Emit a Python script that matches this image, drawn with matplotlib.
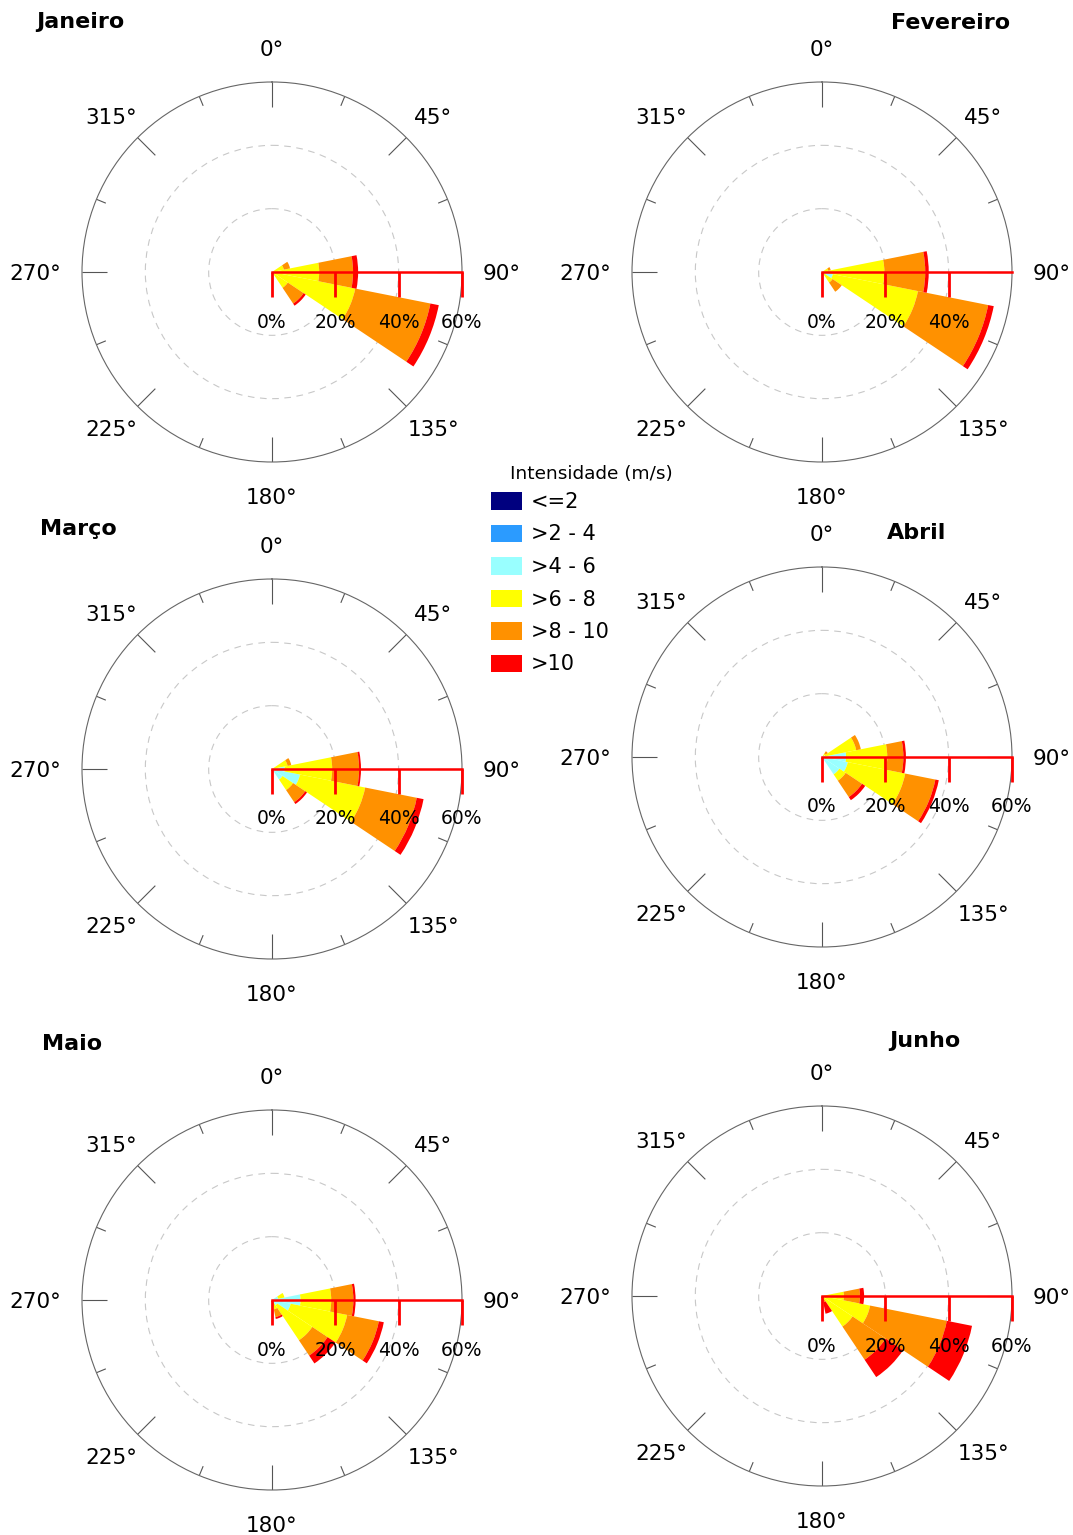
import matplotlib.pyplot as plt
import numpy as np
from matplotlib.patches import Patch

plt.rcParams['font.family'] = 'DejaVu Sans'

# direcoes com dados (graus, sentido horario a partir do norte)
direcoes = [45, 67.5, 90, 112.5, 135, 157.5]
classes = ['<=2', '>2 - 4', '>4 - 6', '>6 - 8', '>8 - 10', '>10']
cores = ['#00007f', '#2b9bff', '#99ffff', '#ffff00', '#ff9100', '#ff0000']
meses = ['Janeiro', 'Fevereiro', 'Março', 'Abril', 'Maio', 'Junho']

# frequencia (%) por classe de intensidade, uma linha por classe
janeiro = [[0, 0, 0, 0, 0, 0],
           [0, 0, 0, 0, 0, 0],
           [0, 0.3, 0.5, 1.0, 0.5, 0],
           [0, 3.5, 14.4, 25.8, 5.5, 0],
           [0, 2.0, 10.7, 24.2, 6.0, 0],
           [0, 0, 1.6, 2.7, 0.8, 0]]
fevereiro = [[0, 0, 0, 0, 0, 0],
             [0, 0, 0, 0, 0, 0],
             [0, 0.3, 1.0, 3.5, 0.5, 0],
             [0, 1.7, 18.7, 27.4, 3.5, 0],
             [0, 0.8, 12.9, 22.6, 3.5, 0],
             [0, 0, 1.1, 1.8, 0, 0]]
marco = [[0, 0, 0, 0, 0, 0],
         [0, 0, 0, 0, 0, 0],
         [0, 0.5, 4.0, 9.0, 4.0, 0],
         [0, 4.5, 15.0, 21.0, 4.0, 0],
         [0, 1.2, 8.5, 16.6, 4.6, 0],
         [0, 0, 0.6, 2.2, 0.7, 0]]
abril = [[0, 0, 0, 0, 0, 0],
         [0, 0, 0, 0, 0, 0],
         [0.5, 1.0, 7.6, 8.3, 6.6, 0],
         [0.8, 10.0, 13.0, 18.5, 2.4, 0],
         [0.9, 1.5, 5.1, 9.7, 6.2, 0],
         [0, 0, 0.8, 1.1, 1.2, 0]]
maio = [[0, 0, 0, 0, 0, 0],
        [0, 0, 0, 0, 0, 0],
        [0, 2.0, 9.0, 6.0, 2.0, 1.0],
        [0, 2.0, 9.7, 18.2, 13.3, 2.0],
        [0, 0, 7.0, 10.2, 5.8, 2.5],
        [0, 0, 0.7, 1.6, 3.0, 0.6]]
junho = [[0, 0, 0, 0, 0, 0],
         [0, 0, 0, 0, 0, 0],
         [0, 0, 0.5, 1.0, 0.5, 0],
         [0, 0, 6.4, 14.5, 11.1, 1.0],
         [0, 0, 5.1, 24.7, 12.6, 1.0],
         [0, 0, 1.3, 8.1, 6.6, 3.7]]
dados = [janeiro, fevereiro, marco, abril, maio, junho]

# marcas do eixo radial vermelho (fevereiro nao tem 60%)
marcas_r = [[0, 20, 40, 60], [0, 20, 40], [0, 20, 40, 60],
            [0, 20, 40, 60], [0, 20, 40, 60], [0, 20, 40, 60]]
angulos = [0, 45, 90, 135, 180, 225, 270, 315]

W, H = 1073, 1535
R = 190
centros = [(272, 272), (822, 272), (272, 769), (822, 757), (272, 1300), (822, 1296)]
pos_titulos = [(80, 22), (951, 23), (78, 529), (917, 533), (72, 1044), (925, 1041)]

fig = plt.figure(figsize=(W / 100, H / 100), dpi=100)

for i in range(6):
    cx, cy = centros[i]
    ax = fig.add_axes([(cx - R) / W, 1 - (cy + R) / H, 2 * R / W, 2 * R / H],
                      projection='polar')
    ax.set_theta_zero_location('N')
    ax.set_theta_direction(-1)
    ax.set_axisbelow(True)

    th = np.deg2rad(direcoes)
    base = np.zeros(len(direcoes))
    for k in range(len(classes)):
        v = np.array(dados[i][k], dtype=float)
        ax.bar(th, v, width=np.deg2rad(22.5), bottom=base, color=cores[k],
               linewidth=0, align='center')
        base += v
    ax.set_ylim(0, 60)

    # grade
    ax.set_yticks([20, 40])
    ax.set_yticklabels([])
    ax.yaxis.grid(True, color='#c8c8c8', linestyle=(0, (6, 5)), linewidth=0.8)
    ax.xaxis.grid(False)
    ax.set_xticks([])
    ax.spines['polar'].set_color('#666666')
    ax.spines['polar'].set_linewidth(0.8)

    # marcas no circulo externo
    ax.vlines(np.deg2rad(angulos), 52.1, 60, color='#555555', lw=0.8)
    ax.vlines(np.deg2rad(np.array(angulos) + 22.5), 56.8, 60, color='#555555', lw=0.8)
    for d in angulos:
        ha = 'center'
        rr = 69.8
        dx = 0
        if d in (0, 180):
            rr = 70.7
        elif d == 90:
            ha, rr = 'left', 66.6
        elif d == 270:
            ha, rr = 'right', 66.6
        elif d in (45, 135):
            dx = 3.5
        else:
            dx = -3.5
        ax.annotate(f'{d}°', xy=(np.deg2rad(d), rr), xytext=(dx, 0),
                    textcoords='offset points', ha=ha, va='center_baseline',
                    fontsize=15.5, annotation_clip=False)

    # eixo radial vermelho
    ax.plot([np.pi / 2, np.pi / 2], [0, 60], color='red', lw=1.8, zorder=5, clip_on=False)
    rt = marcas_r[i]
    ax.plot([np.pi / 2] * len(rt), rt, ls='none', marker=3, ms=18, mew=2,
            color='red', zorder=5, clip_on=False)
    for r in rt:
        ax.annotate(f'{r}%', xy=(np.pi / 2, r), xytext=(0, -36),
                    textcoords='offset points', ha='center', va='center',
                    fontsize=13.5, zorder=6)

    tx, ty = pos_titulos[i]
    fig.text(tx / W, 1 - ty / H, meses[i], ha='center', va='center',
             fontsize=16, fontweight='bold')

# legenda
fig.text(591 / W, 1 - 474 / H, 'Intensidade (m/s)', ha='center', va='center', fontsize=13.3)
alcas = [Patch(facecolor=c, edgecolor='none') for c in cores]
fig.legend(alcas, classes, loc='upper left', bbox_to_anchor=(491 / W, 1 - 492 / H),
           frameon=False, fontsize=15, handlelength=1.5, handleheight=0.92,
           labelspacing=0.6, handletextpad=0.4, borderpad=0, borderaxespad=0)

fig.savefig('out.png', dpi=100)
